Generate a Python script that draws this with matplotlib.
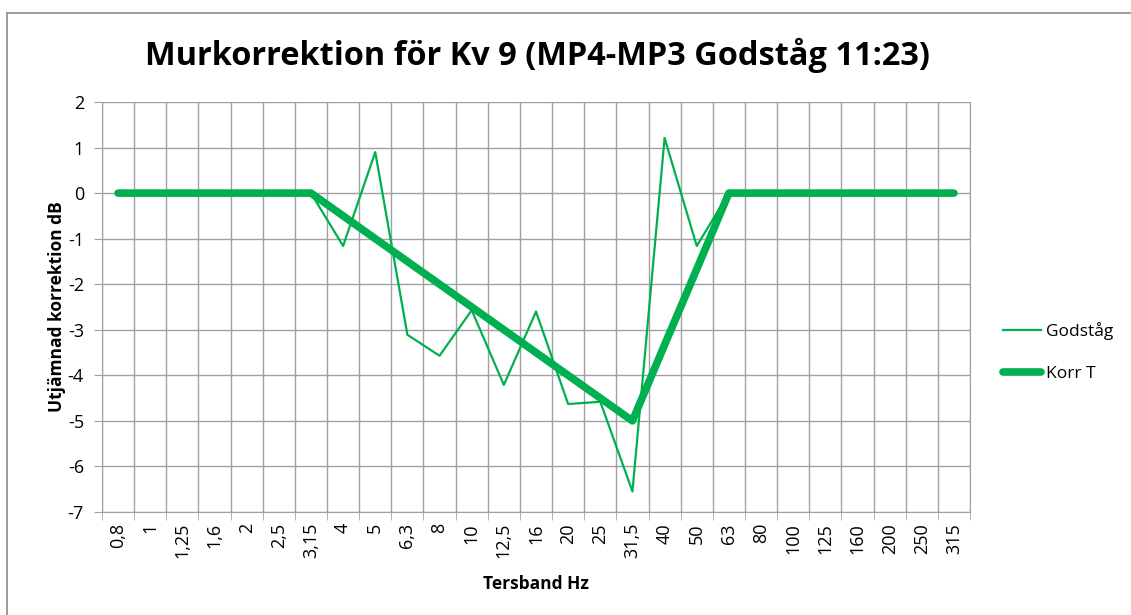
import matplotlib.pyplot as plt
from matplotlib.lines import Line2D
import numpy as np

plt.rcParams['font.family'] = ['Open Sans', 'DejaVu Sans']
plt.rcParams['axes.unicode_minus'] = False

bands = ['0,8', '1', '1,25', '1,6', '2', '2,5', '3,15', '4', '5', '6,3', '8', '10',
         '12,5', '16', '20', '25', '31,5', '40', '50', '63', '80', '100', '125',
         '160', '200', '250', '315']
godstag = [0, 0, 0, 0, 0, 0, 0, -1.16, 0.9, -3.11, -3.57, -2.57, -4.21, -2.6,
           -4.63, -4.58, -6.55, 1.21, -1.16, 0, 0, 0, 0, 0, 0, 0, 0]
korr_t = [0, 0, 0, 0, 0, 0, 0, -0.5, -1.0, -1.5, -2.0, -2.5, -3.0, -3.5,
          -4.0, -4.5, -5.0, -3.33, -1.67, 0, 0, 0, 0, 0, 0, 0, 0]

green = '#00b050'
grid_c = '#a0a0a0'

fig = plt.figure(figsize=(11.31, 6.15), dpi=100)
ax = fig.add_axes([102 / 1131, 1 - 512 / 615, 868 / 1131, 410 / 615])

x = np.arange(len(bands))
ax.plot(x, godstag, color=green, lw=1.6, label='Godståg', zorder=3)
ax.plot(x, korr_t, color=green, lw=5.5, solid_capstyle='round',
        solid_joinstyle='round', label='Korr T', zorder=4)

ax.set_xlim(-0.5, len(bands) - 0.5)
ax.set_ylim(-7, 2)
ax.set_yticks(np.arange(-7, 3, 1))
ax.set_xticks(x)
ax.set_xticklabels(bands, rotation=90, fontsize=13)
ax.set_xticks(np.arange(-0.5, len(bands), 1), minor=True)
ax.tick_params(axis='x', which='major', length=0, pad=8)
ax.tick_params(axis='x', which='minor', length=6, color=grid_c, direction='out')
ax.tick_params(axis='y', length=6, color=grid_c, labelsize=13, pad=7)
ax.grid(True, which='minor', axis='x', color=grid_c, lw=1)
ax.grid(True, which='major', axis='y', color=grid_c, lw=1)
for s in ax.spines.values():
    s.set_color(grid_c)
ax.spines['top'].set_visible(False)

ax.set_ylabel('Utjämnad korrektion dB', fontsize=12.5, fontweight='bold', labelpad=1)
ax.set_xlabel('Tersband Hz', fontsize=12.5, fontweight='bold', labelpad=12)

fig.text(0.475, 0.91, 'Murkorrektion för Kv 9 (MP4-MP3 Godståg 11:23)',
         ha='center', va='center', fontsize=23.4, fontweight='bold')

ax.legend(loc='center left', bbox_to_anchor=(1.02, 0.39), frameon=False,
          fontsize=12.5, handlelength=2.2, labelspacing=1.5, handletextpad=0.3)

fig.add_artist(Line2D([7 / 1131, 1], [1 - 13 / 615, 1 - 13 / 615],
                      transform=fig.transFigure, color='#8c8c8c', lw=1.2))
fig.add_artist(Line2D([7 / 1131, 7 / 1131], [0, 1 - 13 / 615],
                      transform=fig.transFigure, color='#8c8c8c', lw=1.2))

fig.savefig('out.png', dpi=100)
